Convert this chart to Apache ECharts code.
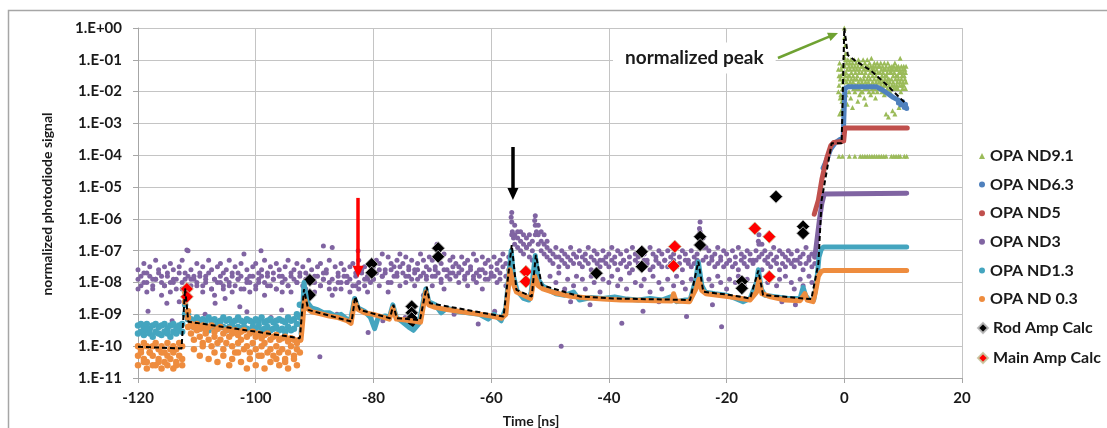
<!DOCTYPE html>
<html>
<head>
<meta charset="utf-8">
<script src="https://cdn.jsdelivr.net/npm/echarts@6/dist/echarts.min.js"></script>
<style>
  html, body { margin: 0; padding: 0; background: #fff; }
  #chart { width: 1107px; height: 428px; }
</style>
</head>
<body>
<div id="chart"></div>
<script>
// Photodiode traces on a logarithmic signal scale. All signal values below are
// stored as base-10 exponents (e.g. -7.5 means 10^-7.5) and drawn on a linear
// exponent axis whose labels read as powers of ten.

const decadeLabels = ['1.E-11','1.E-10','1.E-09','1.E-08','1.E-07','1.E-06',
                      '1.E-05','1.E-04','1.E-03','1.E-02','1.E-01','1.E+00'];
const timeRange = [-120, 20];

// ---- OPA ND3 (purple): scope samples every 0.5 ns from -120 ns to -5 ns ----
const nd3Start = -120, nd3Step = 0.5;
const nd3A = [
  -7.6,-7.8,-7.4,-7.7,-7.5,-7.9,-7.3,-7.6,-7.8,-7.5,
  -7.7,-7.4,-7.6,-7.9,-7.5,-7.3,-7.7,-7.0,-7.6,-7.8,
  -7.4,-7.7,-7.5,-7.8,-7.3,-7.6,-7.9,-7.5,-7.4,-7.7,
  -7.6,-7.3,-7.8,-7.5,-7.7,-7.4,-7.1,-7.6,-7.8,-7.5,
  -7.4,-7.7,-7.6,-7.3,-7.8,-7.5,-7.7,-7.4,-7.6,-7.8,
  -7.5,-7.3,-7.7,-7.6,-7.4,-7.8,-7.5,-7.7,-7.3,-7.6,
  -7.8,-7.5,-7.4,-7.7,-7.6,-7.3,-6.9,-7.5,-7.7,-7.4,
  -7.6,-7.8,-7.5,-7.4,-7.7,-7.3,-7.6,-7.5,-7.8,-7.4,
  -7.5,-7.3,-7.4,-7.1,-7.6,-7.2,-7.4,-7.5,-7.3,-7.1,
  -7.4,-7.2,-7.5,-7.3,-7.6,-7.4,-7.1,-7.3,-7.5,-7.2,
  -7.3,-7.5,-7.2,-7.4,-7.1,-7.6,-7.3,-7.2,-7.4,-7.5,
  -7.2,-7.4,-7.3,-7.5,-7.1,-7.3,-7.6,-7.2,-7.4,-7.3,
  -7.5,-7.2,-7.4,-7.3,-7.1,-7.4,-7.2,-5.8,-6.2,-6.4,
  -6.4,-6.5,-6.6,-6.5,-6.7,-5.9,-6.2,-6.4,-6.5,-6.7,
  -7.0,-7.1,-6.9,-7.2,-7.0,-7.1,-7.2,-6.9,-7.1,-7.2,
  -7.0,-7.2,-7.1,-6.9,-7.2,-7.0,-7.1,-7.3,-7.0,-7.2,
  -7.1,-6.9,-7.2,-7.0,-7.1,-7.3,-7.0,-7.2,-6.9,-7.1,
  -7.2,-7.0,-7.1,-7.3,-6.9,-7.1,-7.2,-7.0,-7.1,-7.3,
  -7.0,-7.2,-7.1,-6.9,-7.2,-7.0,-7.1,-7.3,-7.0,-7.2,
  -7.1,-6.1,-6.6,-6.9,-7.0,-7.2,-7.1,-6.9,-7.2,-7.0,
  -7.1,-7.3,-7.0,-7.2,-6.9,-7.1,-7.2,-7.0,-7.1,-7.3,
  -7.0,-6.5,-6.8,-7.0,-7.2,-7.1,-6.9,-7.2,-7.0,-7.1,
  -7.2,-7.0,-7.1,-7.3,-7.0,-7.2,-7.1,-6.9,-7.2,-7.1,
  -7.2
];
const nd3B = [
  -7.9,-8.1,-7.7,-8.0,-7.8,-8.2,-7.9,-7.7,-8.0,-8.1,
  -7.8,-8.0,-7.9,-8.2,-7.7,-8.0,-7.9,-7.8,-8.1,-7.9,
  -8.0,-7.8,-8.1,-7.9,-7.7,-8.2,-7.9,-8.0,-7.8,-8.1,
  -7.9,-8.0,-7.7,-8.1,-7.9,-7.8,-8.2,-7.9,-8.0,-7.8,
  -8.1,-7.9,-7.8,-8.0,-7.7,-8.1,-7.9,-8.2,-7.8,-8.0,
  -7.9,-8.1,-7.8,-7.9,-8.0,-7.7,-8.1,-7.9,-7.8,-8.0,
  -8.0,-7.8,-8.1,-7.9,-7.7,-8.0,-7.9,-8.2,-7.8,-8.0,
  -7.8,-8.0,-7.9,-8.1,-7.8,-8.0,-7.7,-8.1,-7.9,-8.0,
  -7.9,-7.7,-7.6,-7.8,-7.7,-8.0,-7.6,-7.8,-7.7,-7.5,
  -7.7,-7.8,-7.6,-7.9,-7.7,-7.6,-7.8,-7.7,-7.9,-7.6,
  -7.8,-7.6,-7.7,-7.9,-7.6,-7.8,-7.7,-7.5,-7.8,-7.7,
  -7.6,-7.8,-7.7,-7.6,-7.9,-7.7,-7.8,-7.6,-7.7,-7.9,
  -7.7,-7.8,-7.6,-7.7,-7.5,-7.8,-7.6,-6.1,-6.5,-6.6,
  -6.7,-6.8,-6.9,-6.8,-7.0,-6.2,-6.5,-6.7,-6.8,-6.9,
  -7.3,-7.4,-7.2,-7.5,-7.3,-7.4,-7.5,-7.3,-7.4,-7.2,
  -7.4,-7.5,-7.3,-7.4,-7.6,-7.3,-7.4,-7.5,-7.3,-7.4,
  -7.5,-7.3,-7.4,-7.6,-7.4,-7.3,-7.5,-7.4,-7.6,-7.3,
  -7.4,-7.5,-7.3,-7.4,-7.6,-7.5,-7.3,-7.4,-7.5,-7.3,
  -7.5,-7.4,-7.3,-7.5,-7.4,-7.6,-7.3,-7.4,-7.5,-7.4,
  -7.3,-6.4,-6.9,-7.2,-7.4,-7.3,-7.5,-7.4,-7.3,-7.5,
  -7.4,-7.3,-7.5,-7.4,-7.6,-7.3,-7.4,-7.5,-7.3,-7.4,
  -7.3,-6.8,-7.1,-7.3,-7.4,-7.5,-7.3,-7.4,-7.6,-7.4,
  -7.5,-7.3,-7.4,-7.5,-7.3,-7.4,-7.6,-7.4,-7.3,-7.5,
  -7.4
];
const nd3C = [
  -8.2,null,-8.0,-8.3,null,-8.1,-7.9,null,-8.4,-8.1,
  null,-8.3,-8.0,null,-8.6,-8.2,null,-8.1,-7.9,null,
  -8.1,null,-8.3,-8.0,null,-8.2,-8.4,null,-8.0,-8.2,
  null,-8.1,-8.3,null,-7.9,-8.2,null,-8.0,-8.3,null,
  -8.2,-8.0,null,-8.4,-8.1,null,-7.9,-8.2,null,-8.3,
  null,-8.1,-8.3,null,-8.0,-8.7,null,-8.2,-8.0,null,
  -8.3,null,-8.1,-7.9,null,-8.2,-8.4,null,-8.0,-8.2,
  null,-8.0,-8.3,null,-8.1,-8.2,null,-7.9,-8.3,null,
  -7.9,null,-8.1,-7.8,null,-8.3,-8.0,null,-7.8,-8.1,
  null,-8.0,-7.8,null,-8.1,-7.9,null,-8.4,-7.8,null,
  -8.1,-7.8,null,-8.0,-8.2,null,-7.9,-7.7,null,-8.0,
  null,-7.9,-8.1,null,-7.8,-8.0,null,-8.2,-7.9,null,
  -7.8,null,-8.0,-7.9,null,-8.1,-7.8,-6.5,-6.8,-6.9,
  -7.0,-7.1,-6.9,-7.2,-7.3,-6.5,-6.8,-7.0,-7.1,-7.2,
  -7.8,null,-8.0,-7.7,null,-8.2,-7.9,null,-8.1,-7.8,
  null,-7.9,-8.2,null,-7.8,-8.0,null,-8.3,-7.9,null,
  -8.0,-7.8,null,-8.1,-7.9,null,-8.2,-7.7,null,-8.0,
  null,-8.1,-7.9,null,-8.3,-7.8,null,-8.0,-8.2,null,
  -7.9,null,-8.1,-7.8,null,-8.0,-8.2,null,-7.9,-8.1,
  null,-6.8,-7.3,null,-7.9,-8.1,null,-7.8,-8.0,null,
  -8.2,-7.9,null,-8.0,-7.8,null,-8.1,-7.9,null,-8.3,
  null,-7.2,-7.6,null,-8.0,-7.8,null,-8.1,-7.9,null,
  -7.8,null,-8.0,-8.2,null,-7.9,-8.1,null,-7.8,-8.0,
  null
];
// isolated ND3 samples [time ns, exponent]
const nd3Stray = [
  [-118.3,-8.9],[-115.1,-8.65],[-114.2,-9.2],[-111.7,-6.98],[-108.6,-9.0],
  [-106.9,-8.65],[-105.2,-8.5],[-104.1,-9.3],[-102.7,-8.76],[-101.5,-8.92],
  [-99.1,-7.0],[-97.4,-9.1],[-95.6,-8.86],[-89.1,-10.33],[-88.5,-6.85],
  [-86.2,-9.0],[-82.6,-7.0],[-80.9,-9.57],[-78.4,-9.2],[-74.6,-9.1],
  [-69.2,-6.8],[-66.3,-9.0],[-62.2,-9.3],[-59.4,-8.9],[-56.6,-5.95],
  [-56.4,-6.4],[-56.2,-6.6],[-52.6,-6.05],[-52.3,-6.4],[-48.1,-10.0],
  [-46.5,-8.6],[-43.2,-8.7],[-37.8,-9.28],[-34.2,-8.9],[-31.5,-8.6],
  [-26.8,-9.07],[-24.6,-6.3],[-22.4,-8.7],[-20.85,-9.39],[-14.6,-6.7],
  [-10.6,-8.6],[-8.3,-8.7]
];
// ND3 after the main pulse arrives
const nd3Plateau = [[-5.0,-7.2],[-4.6,-6.6],[-4.2,-6.0],[-3.8,-5.5],[-3.4,-5.22],[10.6,-5.19]];

// ---- OPA ND0.3 (orange) and OPA ND1.3 (teal), 0.5 ns samples from -120 ns to -92.5 ns ----
const lowStart = -120, lowStep = 0.5;
const nd03A = [
  -10.0,-10.1,-9.9,-10.0,-10.2,-10.0,-9.9,-10.1,-10.0,-10.2,-9.9,-10.1,-10.0,-10.1,-9.9,
  -10.0,-8.3,-9.1,
  -9.3,-9.4,-9.3,-9.45,-9.35,-9.5,-9.4,-9.35,-9.55,-9.45,
  -9.4,-9.6,-9.5,-9.45,-9.6,-9.5,-9.65,-9.55,-9.5,-9.7,
  -9.6,-9.55,-9.7,-9.6,-9.75,-9.65,-9.6,-9.8,-9.7,-9.65,
  -9.8,-9.75,-9.7,-9.85,-9.75,-9.8,-9.9,-9.8
];
const nd03B = [
  -10.3,-10.2,-10.4,-10.5,-10.2,-10.3,-10.6,-10.4,-10.2,-10.5,-10.3,-10.4,-10.2,-10.6,-10.3,-10.4,
  -8.6,-8.9,
  -9.6,-9.8,-9.5,-9.7,-9.9,-9.6,-9.8,-10.0,-9.7,-9.9,
  -9.8,-10.1,-9.9,-9.7,-10.0,-10.2,-9.9,-9.8,-10.1,-10.0,
  -10.2,-9.9,-10.1,-10.3,-10.0,-9.9,-10.2,-10.1,-10.3,-10.0,
  -10.2,-10.1,-10.4,-10.2,-10.0,-10.3,-10.1,-10.2
];
const nd03C = [
  -10.6,null,-10.5,-10.7,null,-10.6,null,-10.5,-10.7,null,-10.6,null,-10.7,-10.5,null,-10.6,
  null,-9.4,
  null,-10.1,null,-10.3,-10.0,null,-10.4,null,-10.2,-10.5,
  null,-10.3,null,-10.6,-10.4,null,-10.2,-10.5,null,-10.7,
  -10.4,null,-10.6,null,-10.3,-10.7,null,-10.5,null,-10.4,
  -10.6,null,-10.5,-10.7,null,-10.4,-10.6,null
];
const nd13A = [
  -9.35,-9.3,-9.4,-9.3,-9.45,-9.35,-9.3,-9.4,-9.35,-9.3,-9.45,-9.35,-9.3,-9.4,-9.35,-9.3,-8.7,-9.0,
  -9.15,-9.2,-9.1,-9.25,-9.15,-9.2,-9.1,-9.2,-9.15,-9.25,
  -9.2,-9.1,-9.2,-9.15,-9.25,-9.2,-9.1,-9.2,-9.25,-9.15,
  -9.2,-9.25,-9.15,-9.2,-9.1,-9.25,-9.2,-9.15,-9.25,-9.2,
  -9.15,-9.2,-9.25,-9.1,-9.2,-9.15,-9.0,-8.7
];
const nd13B = [
  -9.6,-9.55,-9.65,-9.5,-9.6,-9.7,-9.55,-9.6,-9.65,-9.55,-9.6,-9.7,-9.55,-9.6,-9.5,-9.55,-9.0,-9.15,
  -9.35,-9.4,-9.3,-9.45,-9.35,-9.4,-9.5,-9.35,-9.4,-9.45,
  -9.35,-9.4,-9.5,-9.4,-9.35,-9.45,-9.4,-9.5,-9.4,-9.45,
  -9.5,-9.4,-9.45,-9.35,-9.5,-9.45,-9.4,-9.5,-9.45,-9.4,
  -9.5,-9.45,-9.55,-9.4,-9.5,-9.45,-9.3,-9.1
];
// after -92 ns both traces run as tight bands [time ns, exponent]
const nd03Trace = [
  [-92.3,-9.8],[-92.0,-9.2],[-91.7,-8.5],[-91.3,-8.8],[-90.5,-8.92],[-89,-8.98],[-87.5,-9.05],
  [-86,-9.1],[-84.5,-9.2],[-83.8,-9.28],[-83.2,-8.6],[-82.6,-8.85],[-81.5,-8.95],[-80,-9.0],
  [-78.5,-9.08],[-77.3,-9.15],[-76.7,-8.8],[-76.1,-9.15],[-74.5,-9.18],[-73,-9.22],[-72,-9.25],
  [-71.1,-8.3],[-70.6,-8.7],[-69.5,-8.78],[-67.5,-8.85],[-65,-8.92],[-62.5,-8.98],[-60,-9.05],
  [-58.2,-9.12],[-57.5,-9.0],[-56.8,-7.6],[-56.3,-8.0],[-55.7,-8.3],[-54.5,-8.4],[-53.3,-8.5],
  [-52.6,-7.8],[-52.0,-8.1],[-51.2,-8.2],[-49,-8.33],[-46.5,-8.43],[-44,-8.48],[-41,-8.52],
  [-38,-8.55],[-35,-8.56],[-32,-8.57],[-29.3,-8.58],[-29,-8.35],[-28.6,-8.58],[-26.3,-8.6],
  [-25.2,-8.2],[-24.7,-7.9],[-24.2,-8.25],[-23.5,-8.35],[-21.5,-8.4],[-19.5,-8.45],[-17.5,-8.5],
  [-16,-8.55],[-14.9,-8.3],[-14.5,-7.9],[-14.0,-8.35],[-12.5,-8.45],[-10,-8.55],[-7.5,-8.57],
  [-6.7,-8.35],[-6.3,-8.55],[-5.3,-8.6],[-4.9,-8.3],[-4.4,-7.8],[-3.9,-7.65],[-3.4,-7.62],[10.6,-7.62]
];
const nd13Trace = [
  [-92.3,-9.6],[-92,-8.8],[-91.8,-8.0],[-91.3,-8.6],[-90.5,-8.8],[-89.5,-8.85],[-88.5,-8.95],
  [-87.5,-8.95],[-86.5,-9.05],[-85.5,-9.0],[-84.5,-9.15],[-83.9,-9.2],[-83.2,-8.5],[-82.6,-8.8],
  [-81.5,-8.9],[-80.5,-9.1],[-79.8,-9.45],[-79.2,-9.1],[-78,-9.05],[-77.3,-9.1],[-76.7,-8.7],
  [-76.1,-9.1],[-75,-9.25],[-74,-9.4],[-73.2,-9.5],[-72.3,-9.3],[-71.1,-8.2],[-70.6,-8.6],
  [-69.5,-8.7],[-68.5,-8.95],[-67.5,-8.8],[-66,-8.9],[-64,-8.95],[-62,-9.0],[-60.5,-9.15],
  [-59.5,-9.0],[-58.3,-9.2],[-57.5,-8.8],[-56.6,-7.0],[-56.2,-7.8],[-55.6,-8.25],[-54.5,-8.5],
  [-53.6,-8.55],[-53.2,-8.3],[-52.5,-7.15],[-52.0,-7.9],[-51.3,-8.1],[-50,-8.25],[-49,-8.35],
  [-47.5,-8.4],[-46,-8.3],[-45,-8.55],[-43,-8.47],[-41,-8.5],[-39,-8.45],[-37,-8.52],[-35,-8.55],
  [-33,-8.5],[-31,-8.55],[-29.5,-8.45],[-28.5,-8.6],[-27,-8.55],[-26.2,-8.55],[-25.2,-7.9],
  [-24.8,-7.35],[-24.2,-8.1],[-23.6,-8.3],[-22,-8.35],[-20,-8.4],[-18.5,-8.5],[-17.2,-8.6],
  [-16,-8.5],[-14.9,-8.0],[-14.6,-7.6],[-14.1,-8.2],[-13.5,-8.4],[-11.5,-8.45],[-9.5,-8.5],
  [-7.5,-8.5],[-7.0,-8.15],[-6.6,-8.4],[-6,-8.55],[-5.2,-8.55],[-4.7,-8.0],[-4.3,-7.2],
  [-3.9,-6.95],[-3.5,-6.88],[10.6,-6.88]
];

// ---- OPA ND5 (red) and OPA ND6.3 (blue) near the main pulse ----
const nd5Trace = [[-5.1,-5.85],[-4.4,-5.41],[-3.8,-4.75],[-3.0,-4.1],[-2.3,-3.7],[-1.8,-3.6],
                  [-0.45,-3.57],[-0.1,-3.55],[0.1,-3.14],[10.7,-3.14]];
const nd63Trace = [[-3.6,-4.4],[-3.0,-4.15],[-2.3,-3.8],[-1.5,-3.6],[-0.7,-3.5],[-0.2,-3.5],
                   [0.1,-1.9],[0.6,-1.85],[5.5,-1.85],[6.5,-1.95],[7.3,-2.05],[8.3,-2.18],
                   [9.3,-2.28],[10.0,-2.38],[10.5,-2.48]];
const nd63Tail = [[9.2,-2.36],[9.6,-2.42],[9.9,-2.31],[10.2,-2.5],[10.4,-2.4],[10.6,-2.53]];

// ---- OPA ND9.1 (green): 0.1 ns samples from -1.0 ns to 10.5 ns ----
const nd91Start = -1.0, nd91Step = 0.1;
const nd91A = [
  -1.3,-1.8,-1.1,-2.2,-1.5,-2.6,-1.2,-1.9,-1.4,-2.4,
  -0.9,-1.2,-1.0,-1.4,-1.1,-1.3,-1.0,-1.5,-1.2,-1.1,
  -1.3,-1.0,-1.4,-1.2,-1.1,-1.5,-1.3,-1.0,-1.2,-1.4,
  -1.1,-1.3,-1.5,-1.2,-1.0,-1.4,-1.3,-1.1,-1.6,-1.2,
  -1.4,-1.2,-1.0,-1.3,-1.5,-1.1,-1.4,-1.2,-1.3,-1.0,
  -1.2,-1.5,-1.3,-1.1,-1.4,-1.2,-0.95,-1.3,-1.5,-1.2,
  -1.3,-1.1,-1.4,-1.2,-1.5,-1.3,-1.1,-1.4,-1.2,-1.6,
  -1.2,-1.4,-1.1,-1.3,-1.5,-1.2,-1.4,-1.3,-1.1,-1.5,
  -1.3,-1.2,-1.5,-1.4,-1.1,-1.3,-1.6,-1.2,-1.4,-1.3,
  -1.4,-1.2,-1.3,-1.5,-1.2,-1.4,-1.1,-1.3,-1.5,-1.2,
  -1.3,-1.5,-1.2,-1.4,-1.3,-0.95,-1.4,-1.2,-1.5,-1.3,
  -1.4,-1.2,-1.5,-1.3,-1.4,-1.2
];
const nd91B = [
  -2.0,-1.5,-2.7,-1.6,-2.1,-1.3,-2.3,-1.7,-2.5,-1.6,
  -1.6,-1.9,-1.5,-2.1,-1.7,-2.4,-1.6,-1.8,-2.0,-1.5,
  -1.7,-2.2,-1.6,-1.8,-2.5,-1.7,-1.9,-1.6,-2.0,-1.8,
  -1.9,-1.6,-1.8,-2.3,-1.7,-1.9,-2.1,-1.6,-1.8,-2.0,
  -1.7,-2.0,-1.8,-1.6,-2.2,-1.9,-1.7,-2.4,-1.8,-1.6,
  -1.9,-1.7,-2.0,-1.8,-1.6,-2.1,-1.8,-1.9,-1.7,-2.0,
  -1.8,-1.6,-1.9,-2.2,-1.7,-1.8,-2.0,-1.6,-1.9,-1.7,
  -1.7,-1.9,-1.8,-1.6,-2.0,-1.7,-1.9,-1.8,-2.1,-1.6,
  -1.8,-2.7,-1.7,-1.9,-1.6,-2.8,-1.8,-1.7,-2.0,-1.9,
  -1.6,-1.8,-2.6,-1.7,-1.9,-1.8,-2.7,-1.6,-1.9,-1.8,
  -1.7,-1.9,-1.6,-2.5,-1.8,-1.7,-2.0,-1.6,-1.8,-1.9,
  -1.7,-1.8,-2.4,-1.6,-1.9,-1.7
];
const nd91Peak = [[0,0],[0.05,-0.3],[0.15,-0.55],[0.25,-0.8]];
const nd91Floor = [[-0.9,-4.03],[-0.3,-4.03],[0.85,-4.03],[1.8,-4.03],[2.7,-4.03],[3.1,-4.03],
                   [3.5,-4.03],[3.9,-4.03],[4.3,-4.03],[4.7,-4.03],[5.1,-4.03],[5.5,-4.03],
                   [5.9,-4.03],[6.3,-4.03],[6.7,-4.03],[7.1,-4.03],[8.0,-4.03],[8.4,-4.03],
                   [8.8,-4.03],[9.2,-4.03],[9.5,-4.03],[10.2,-4.03],[10.6,-4.03]];

// ---- calculated amplifier contributions [time ns, exponent] ----
const rodAmpCalc = [[-90.8,-7.92],[-90.8,-8.39],[-80.3,-7.42],[-80.3,-7.69],[-69.0,-6.92],
                    [-69.0,-7.19],[-73.5,-8.75],[-73.5,-8.95],[-73.5,-9.12],[-73.5,-9.33],
                    [-42.1,-7.71],[-34.4,-7.03],[-34.4,-7.5],[-24.5,-6.56],[-24.5,-6.82],
                    [-17.4,-7.97],[-17.4,-8.18],[-11.6,-5.3],[-7.0,-6.24],[-7.0,-6.45]];
const mainAmpCalc = [[-111.7,-8.2],[-111.7,-8.45],[-54.1,-7.66],[-54.1,-7.97],[-28.8,-6.87],
                     [-29.0,-7.48],[-15.2,-6.3],[-12.75,-6.56],[-12.75,-7.82]];

// ---- dashed pulse-train envelope ----
const envelope = [
  [-120,-10.02],[-112.6,-10.07],[-112.0,-8.18],[-111.45,-9.23],[-92.5,-9.75],[-91.8,-8.21],
  [-91.07,-8.86],[-83.7,-9.23],[-83.1,-8.44],[-82.3,-8.86],[-77.2,-9.12],[-76.6,-8.7],
  [-76.05,-9.12],[-72.1,-9.18],[-70.95,-8.13],[-70.4,-8.65],[-57.9,-9.07],[-56.5,-6.82],
  [-55.7,-8.23],[-53.1,-8.44],[-52.4,-7.13],[-51.4,-8.08],[-44.9,-8.44],[-39.25,-8.5],
  [-26.2,-8.55],[-24.8,-7.34],[-23.95,-8.29],[-19.4,-8.39],[-16.0,-8.5],[-14.6,-7.62],
  [-13.8,-8.39],[-5.6,-8.52],[-4.4,-7.4],[-3.85,-5.41],[-2.15,-3.62],[-0.45,-3.62],
  [0,0],[0.6,-0.85],[2,-1.05],[4.4,-1.32],[7,-1.75],[10.3,-2.35]
];

// ---- annotation arrows [time ns, exponent] from tail to head ----
const redArrow = [[-82.6,-5.34],[-82.6,-7.66]];
const blackArrow = [[-56.3,-3.74],[-56.3,-5.22]];
const peakArrow = [[-11.27,-0.943],[-1.85,-0.217]];

const COLORS = {
  nd91: '#9BBB59', nd63: '#4F81BD', nd5: '#C0504D',
  nd3: '#8064A2', nd13: '#44A5BF', nd03: '#EE8C3E'
};
const FONT = 'Lato, "Liberation Sans", sans-serif';
const INK = '#1a1a1a';

function sampled(start, step, values) {
  const out = [];
  values.forEach((v, i) => { if (v !== null) out.push([+(start + i * step).toFixed(2), v]); });
  return out;
}
function dots(name, color, size, data, symbol) {
  return { name, type: 'scatter', data, symbol: symbol || 'circle', symbolSize: size,
           itemStyle: { color, opacity: 1 }, silent: true };
}
function band(name, color, width, data) {
  return { name, type: 'line', data, symbol: 'none', showSymbol: false,
           lineStyle: { color, width, cap: 'round', join: 'round' },
           itemStyle: { color }, silent: true };
}
function arrow(points, color, width, head) {
  return {
    type: 'line', data: [], silent: true,
    markLine: {
      silent: true, animation: false,
      symbol: ['none', 'triangle'], symbolSize: head,
      label: { show: false },
      lineStyle: { color, width, type: 'solid' },
      emphasis: { disabled: true },
      data: [[{ coord: points[0] }, { coord: points[1] }]]
    }
  };
}

const chart = echarts.init(document.getElementById('chart'), null, { renderer: 'canvas' });

const legendText = { fontFamily: FONT, fontWeight: 'bold', fontSize: 16, color: INK };

chart.setOption({
  animation: false,
  backgroundColor: '#fff',
  grid: { left: 138, top: 28, width: 824, height: 350, containLabel: false },
  xAxis: {
    type: 'value', min: timeRange[0], max: timeRange[1], interval: 20,
    axisLine: { show: true, onZero: false, lineStyle: { color: '#a6a6a6', width: 1 } },
    axisTick: { show: true, length: 5, lineStyle: { color: '#a6a6a6' } },
    splitLine: { show: true, lineStyle: { color: '#c4c4c4', width: 1 } },
    axisLabel: { margin: 13, fontFamily: FONT, fontWeight: 'bold', fontSize: 15, color: INK }
  },
  yAxis: {
    type: 'value', min: -11, max: 0, interval: 1,
    axisLine: { show: true, onZero: false, lineStyle: { color: '#a6a6a6', width: 1 } },
    axisTick: { show: true, length: 5, lineStyle: { color: '#a6a6a6' } },
    splitLine: { show: true, lineStyle: { color: '#c4c4c4', width: 1 } },
    axisLabel: {
      margin: 16, fontFamily: FONT, fontWeight: 'bold', fontSize: 15, color: INK,
      formatter: v => decadeLabels[Math.round(v) + 11]
    }
  },
  legend: [
    {
      orient: 'vertical', left: 974, top: 143, itemWidth: 6, itemHeight: 6, itemGap: 12.6,
      selectedMode: false, textStyle: legendText,
      data: [
        { name: 'OPA ND9.1', icon: 'triangle', itemStyle: { color: COLORS.nd91 } },
        { name: 'OPA ND6.3', icon: 'circle', itemStyle: { color: COLORS.nd63 } },
        { name: 'OPA ND5', icon: 'circle', itemStyle: { color: COLORS.nd5 } },
        { name: 'OPA ND3', icon: 'circle', itemStyle: { color: COLORS.nd3 } },
        { name: 'OPA ND1.3', icon: 'circle', itemStyle: { color: COLORS.nd13 } },
        { name: 'OPA ND 0.3', icon: 'circle', itemStyle: { color: COLORS.nd03 } }
      ]
    },
    {
      orient: 'vertical', left: 972, top: 315, itemWidth: 10, itemHeight: 10, itemGap: 14,
      selectedMode: false, textStyle: legendText,
      data: [
        { name: 'Rod Amp Calc', icon: 'diamond', itemStyle: { color: '#000' } },
        { name: 'Main Amp Calc', icon: 'diamond', itemStyle: { color: '#FF0000' } }
      ]
    }
  ],
  series: [
    dots('OPA ND9.1', COLORS.nd91, 5, sampled(nd91Start, nd91Step, nd91B), 'triangle'),
    dots('OPA ND9.1', COLORS.nd91, 5, sampled(nd91Start, nd91Step, nd91A), 'triangle'),
    dots('OPA ND9.1', COLORS.nd91, 5, nd91Peak, 'triangle'),
    dots('OPA ND9.1', COLORS.nd91, 5, nd91Floor, 'triangle'),

    band('OPA ND6.3', COLORS.nd63, 5, nd63Trace),
    dots('OPA ND6.3', COLORS.nd63, 5, nd63Tail),

    band('OPA ND5', COLORS.nd5, 5, nd5Trace),

    dots('OPA ND3', COLORS.nd3, 5, sampled(nd3Start, nd3Step, nd3C)),
    dots('OPA ND3', COLORS.nd3, 5, sampled(nd3Start, nd3Step, nd3B)),
    dots('OPA ND3', COLORS.nd3, 5, sampled(nd3Start, nd3Step, nd3A)),
    dots('OPA ND3', COLORS.nd3, 5, nd3Stray),
    band('OPA ND3', COLORS.nd3, 5, nd3Plateau),

    dots('OPA ND1.3', COLORS.nd13, 6.5, sampled(lowStart, lowStep, nd13A)),
    dots('OPA ND1.3', COLORS.nd13, 6.5, sampled(lowStart, lowStep, nd13B)),
    band('OPA ND1.3', COLORS.nd13, 5, nd13Trace),

    dots('OPA ND 0.3', COLORS.nd03, 6.5, sampled(lowStart, lowStep, nd03A)),
    dots('OPA ND 0.3', COLORS.nd03, 6.5, sampled(lowStart, lowStep, nd03B)),
    dots('OPA ND 0.3', COLORS.nd03, 6.5, sampled(lowStart, lowStep, nd03C)),
    band('OPA ND 0.3', COLORS.nd03, 5, nd03Trace),

    { name: 'Rod Amp Calc', type: 'scatter', data: rodAmpCalc, symbol: 'diamond', symbolSize: 13,
      itemStyle: { color: '#000', opacity: 1, borderColor: 'rgba(185,185,185,0.9)', borderWidth: 1 },
      silent: true },
    { name: 'Main Amp Calc', type: 'scatter', data: mainAmpCalc, symbol: 'diamond', symbolSize: 13,
      itemStyle: { color: '#FF0000', opacity: 1, borderColor: 'rgba(200,200,160,0.9)', borderWidth: 1 },
      silent: true },

    { type: 'line', data: envelope, symbol: 'none', silent: true,
      lineStyle: { color: '#000', width: 2, type: [5, 3] } },

    arrow(redArrow, '#FF0000', 3.5, [11, 12]),
    arrow(blackArrow, '#000000', 3.5, [11, 12]),
    arrow(peakArrow, '#6FA232', 2.5, [9, 10])
  ],
  graphic: [
    { type: 'rect', silent: true, z: -1,
      shape: { x: 8.5, y: 10.5, width: 1200, height: 600 },
      style: { fill: 'none', stroke: '#a6a6a6', lineWidth: 1.5 } },
    { type: 'text', silent: true, x: 47, y: 204, rotation: Math.PI / 2,
      style: { text: 'normalized photodiode signal', fill: INK, align: 'center', verticalAlign: 'middle',
               font: 'bold 14px ' + FONT } },
    { type: 'text', silent: true, x: 531, y: 421,
      style: { text: 'Time [ns]', fill: INK, align: 'center', verticalAlign: 'middle',
               font: 'bold 14px ' + FONT } },
    // the callout sits on its own white box, covering the grid lines behind it
    { type: 'text', silent: true, x: 613, y: 58, z: 100,
      style: { text: 'normalized peak', fill: INK, align: 'left', verticalAlign: 'middle',
               font: 'bold 19px ' + FONT, backgroundColor: '#fff', padding: [6, 12, 6, 12] } }
  ]
});
</script>
</body>
</html>
